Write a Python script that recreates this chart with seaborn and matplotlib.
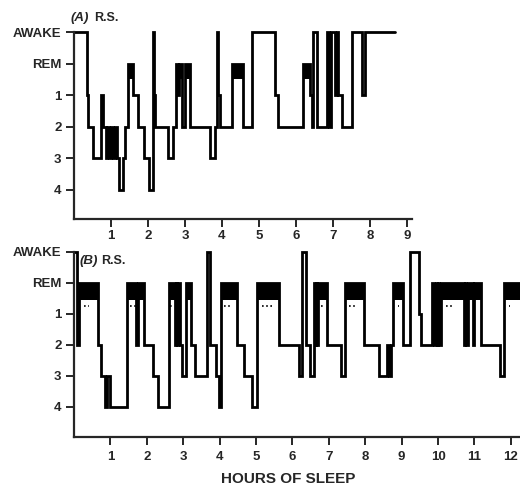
import matplotlib
matplotlib.use("Agg")
import matplotlib.pyplot as plt
import seaborn as sns
import pandas as pd

# -----------------------------
# Data
# -----------------------------
STAGE_LABELS = ["AWAKE", "REM", "1", "2", "3", "4"]
STAGE_DEPTH = {"W": 0, "R": 1, "1": 2, "2": 3, "3": 4, "4": 5}

# (A) R.S. -- hour at which each stage starts
a_onset = [0.00, 0.34, 0.39, 0.52, 0.72, 0.79, 0.86, 0.90, 0.95, 1.00,
           1.05, 1.11, 1.15, 1.22, 1.32, 1.38, 1.47, 1.60, 1.74, 1.89,
           2.03, 2.13, 2.16, 2.20, 2.55, 2.68, 2.76, 2.82, 2.85, 2.91,
           3.00, 3.15, 3.68, 3.81, 3.86, 3.90, 3.95, 4.26, 4.56, 4.80,
           5.43, 5.52, 6.18, 6.38, 6.43, 6.47, 6.58, 6.84, 6.89, 6.95,
           7.05, 7.12, 7.15, 7.24, 7.51, 7.78, 7.88]
a_stage = ["W", "1", "2", "3", "1", "2", "3", "2", "3", "2",
           "3", "2", "3", "4", "3", "2", "R", "1", "2", "3",
           "4", "W", "1", "2", "3", "2", "R", "1", "R", "2",
           "R", "2", "3", "2", "W", "1", "2", "R", "2", "W",
           "1", "2", "R", "1", "2", "W", "2", "W", "2", "W",
           "1", "W", "1", "2", "W", "1", "W"]
a_end = 8.68

# (B) R.S.
b_onset = [0.00, 0.07, 0.15, 0.65, 0.74, 0.85, 0.92, 0.98, 1.46, 1.69,
           1.76, 1.91, 2.18, 2.32, 2.61, 2.77, 2.80, 2.84, 2.87, 2.91,
           2.97, 3.08, 3.21, 3.31, 3.65, 3.73, 3.89, 3.97, 4.05, 4.49,
           4.66, 4.88, 5.03, 5.62, 6.17, 6.25, 6.36, 6.49, 6.58, 6.61,
           6.64, 6.67, 6.71, 6.94, 7.33, 7.45, 7.96, 8.37, 8.60, 8.65,
           8.70, 8.77, 9.05, 9.23, 9.47, 9.54, 9.82, 9.90, 9.93, 9.96,
           10.00, 10.03, 10.08, 10.70, 10.74, 10.77, 10.82, 10.95, 10.99, 11.17,
           11.71, 11.80]
b_stage = ["W", "2", "R", "2", "3", "4", "3", "4", "R", "2",
           "R", "2", "3", "4", "R", "2", "R", "2", "R", "2",
           "3", "R", "2", "3", "W", "2", "3", "4", "R", "2",
           "3", "4", "R", "2", "3", "W", "2", "3", "R", "2",
           "R", "2", "R", "2", "3", "R", "2", "3", "2", "3",
           "2", "R", "2", "W", "1", "2", "R", "2", "R", "2",
           "R", "2", "R", "2", "R", "2", "R", "2", "R", "2",
           "3", "R"]
b_end = 12.4

# dotted marks inside REM periods of (B)
b_dot_start = [0.28, 1.55, 2.63, 4.12, 5.16, 6.79, 7.55, 8.90, 10.22, 11.94]
b_dot_end = [0.42, 1.69, 2.72, 4.35, 5.48, 6.87, 7.74, 8.93, 10.45, 11.97]

A_HOURS = list(range(1, 10))
B_HOURS = list(range(1, 13))


# -----------------------------
# Style
# -----------------------------
sns.set_style("ticks")
plt.rcParams["font.family"] = ["Liberation Sans", "DejaVu Sans"]
plt.rcParams["font.weight"] = "bold"


def draw_hypnogram(ax, onset, stage, end, rem_bottom):

    depth = [STAGE_DEPTH[s] for s in stage]

    df = pd.DataFrame({
        "hour": onset + [end],
        "depth": depth + [depth[-1]]
    })

    sns.lineplot(
        data=df, x="hour", y="depth", ax=ax,
        drawstyle="steps-post", estimator=None, sort=False,
        color="black", lw=2.0, solid_joinstyle="miter"
    )

    # REM periods drawn as solid blocks
    stops = onset[1:] + [end]
    for start, stop, s in zip(onset, stops, stage):
        if s == "R":
            ax.fill_between([start, stop], 1, rem_bottom,
                            color="black", lw=0)


def style_axes(ax, hours, xmax, ymax, pad):

    ax.set_xlim(0, xmax)
    ax.set_ylim(ymax, -0.1)
    ax.set_yticks(range(6))
    ax.set_yticklabels(STAGE_LABELS, fontsize=9.5, fontweight="bold")
    ax.set_xticks(hours)
    ax.set_xticklabels([str(h) for h in hours], fontsize=9.5,
                       fontweight="bold")
    ax.set_xlabel("")
    ax.set_ylabel("")
    sns.despine(ax=ax)
    ax.spines["left"].set_bounds(0, ymax)
    for side in ["left", "bottom"]:
        ax.spines[side].set_linewidth(1.6)
    ax.tick_params(axis="both", length=5.5, width=1.4, direction="out")
    ax.tick_params(axis="x", pad=pad)


fig = plt.figure(figsize=(5.2, 4.9), dpi=100)

ax_a = fig.add_axes([0.1423, 0.5531, 0.650, 0.388])
draw_hypnogram(ax_a, a_onset, a_stage, a_end, 1.5)
style_axes(ax_a, A_HOURS, 9.14, 5.92, 2.5)
ax_a.text(-0.01, 1.04, "(A)", transform=ax_a.transAxes, fontsize=9.5,
          fontstyle="italic", fontweight="bold")
ax_a.text(0.06, 1.04, "R.S.", transform=ax_a.transAxes, fontsize=9,
          fontweight="bold")

ax_b = fig.add_axes([0.1423, 0.1082, 0.8577, 0.3839])
draw_hypnogram(ax_b, b_onset, b_stage, b_end, 1.55)
for start, stop in zip(b_dot_start, b_dot_end):
    ax_b.plot([start, stop], [1.75, 1.75], color="black", lw=1.2,
              linestyle=(0, (1, 1.5)))
style_axes(ax_b, B_HOURS, 12.25, 5.97, 4.5)
ax_b.text(0.012, 0.965, "(B)", transform=ax_b.transAxes, fontsize=9.5,
          fontstyle="italic", fontweight="bold", va="top")
ax_b.text(0.06, 0.965, "R.S.", transform=ax_b.transAxes, fontsize=9,
          fontweight="bold", va="top")

fig.text(288 / 520, 1 - 479 / 490, "HOURS OF SLEEP", ha="center",
         va="center", fontsize=11, fontweight="bold")

fig.savefig("out.png", dpi=100)
